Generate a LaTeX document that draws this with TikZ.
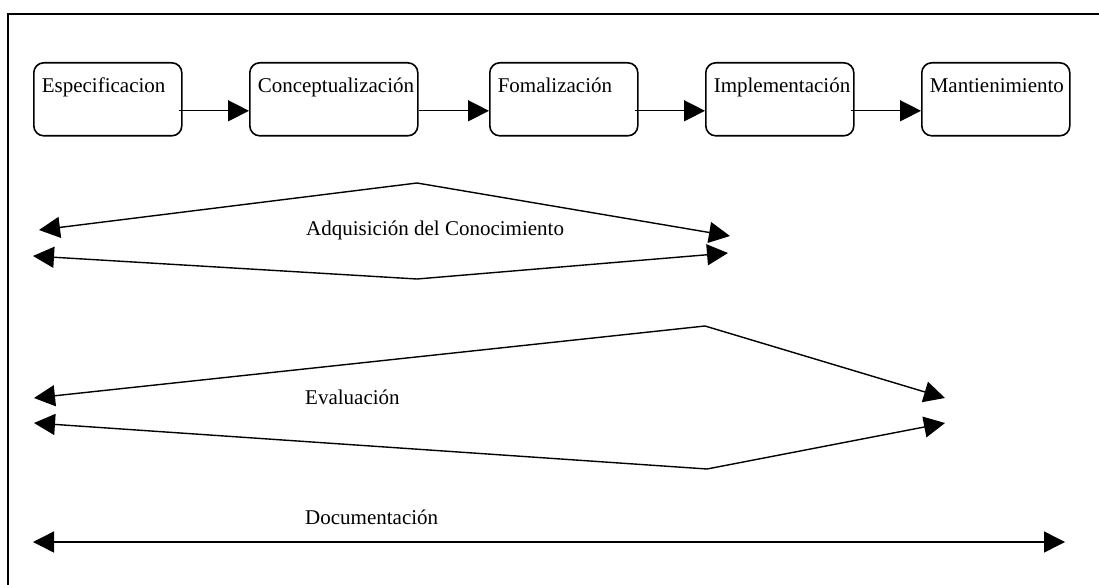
\documentclass[tikz,border=0pt]{standalone}
\usepackage{fontspec}
\setmainfont{Liberation Serif}
\usetikzlibrary{arrows.meta}

\tikzset{
  stage/.style={draw, line width=1.6pt, rounded corners=10pt, anchor=north west,
    inner xsep=8pt, inner ysep=0pt, text width=132pt, align=left,
    text height=30pt, text depth=43pt},
  flow/.style={line width=1.4pt, -{Triangle[length=21pt,width=21pt]}},
  twoway/.style={line width=1.4pt,
    {Triangle[length=21pt,width=21pt]}-{Triangle[length=21pt,width=21pt]}},
  phase/.style={anchor=base west, inner sep=0pt}
}

\begin{document}
\begin{tikzpicture}[x=1pt, y=-1pt, font=\fontsize{21pt}{25pt}\selectfont]
            \useasboundingbox (0,0) rectangle (1099,585);
            \begin{scope}
                \clip (0,0) rectangle (1099,585);
                \draw[line width=1.6pt] (8,14) rectangle (1110,600);
            \end{scope}

            \node[stage] (espec) at (33,62) {Especificacion};
            \node[stage, text width=152pt] (concep) at (249,62) {Conceptualización};
            \node[stage] (formal) at (489,62) {Fomalización};
            \node[stage] (implem) at (705,62) {Implementación};
            \node[stage] (mant) at (921,62) {Mantienimiento};

            \draw[flow] ([xshift=-4pt,yshift=-11.5pt]espec.east) -- ([yshift=-11.5pt]concep.west);
            \draw[flow] ([yshift=-11.5pt]concep.east) -- ([yshift=-11.5pt]formal.west);
            \draw[flow] ([xshift=-4pt,yshift=-11.5pt]formal.east) -- ([yshift=-11.5pt]implem.west);
            \draw[flow] ([xshift=-4pt,yshift=-11.5pt]implem.east) -- ([yshift=-11.5pt]mant.west);

            \coordinate (A1) at (39,230);
            \coordinate (A2) at (417,183);
            \coordinate (A3) at (730,236);
            \coordinate (A4) at (33,256);
            \coordinate (A5) at (417,279);
            \coordinate (A6) at (728,253);
            \draw[twoway] (A1) -- (A2) -- (A3);
            \draw[twoway] (A4) -- (A5) -- (A6);
            \node[phase] (adq) at (306,236) {Adquisición del Conocimiento};

            \coordinate (E1) at (34,398);
            \coordinate (E2) at (705,326);
            \coordinate (E3) at (945,398);
            \coordinate (E4) at (34,423);
            \coordinate (E5) at (707,469);
            \coordinate (E6) at (945,423);
            \draw[twoway] (E1) -- (E2) -- (E3);
            \draw[twoway] (E4) -- (E5) -- (E6);
            \node[phase] (eval) at (305,404) {Evaluación};

            \coordinate (D1) at (33,542);
            \coordinate (D2) at (1065,542);
            \draw[twoway] (D1) -- (D2);
            \node[phase] (doc) at (305,524) {Documentación};
\end{tikzpicture}
\end{document}
